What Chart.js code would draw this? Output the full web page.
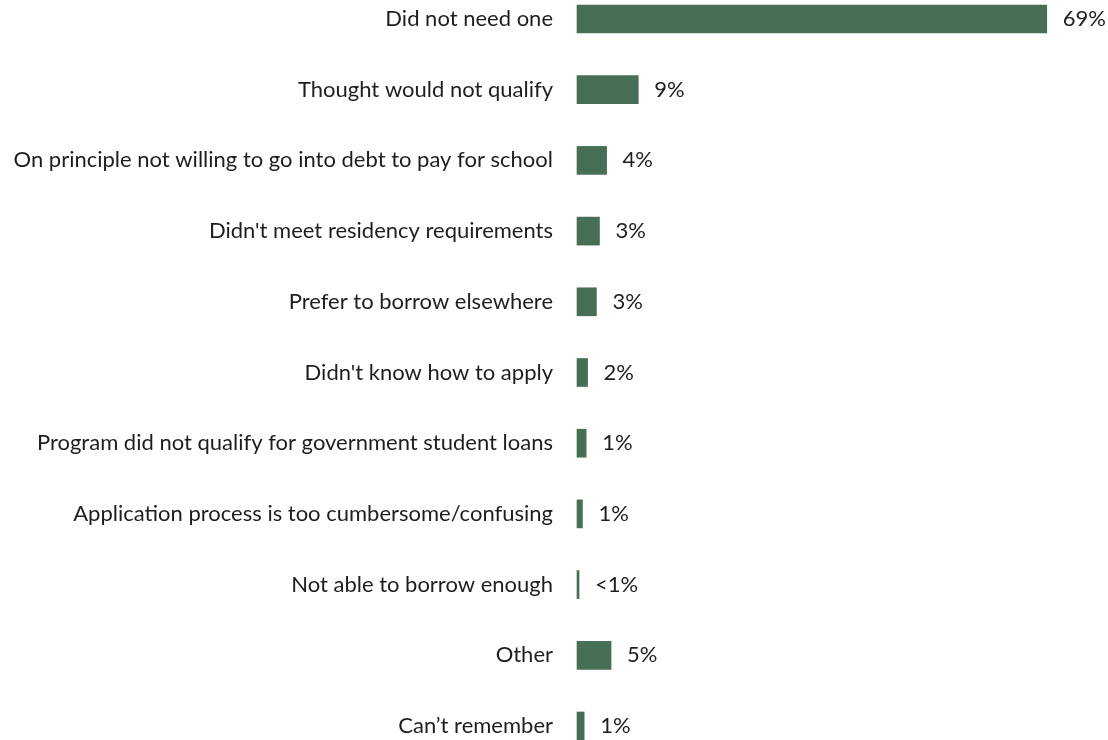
<!DOCTYPE html>
<html>
<head>
<meta charset="utf-8">
<script src="https://cdn.jsdelivr.net/npm/chart.js@4"></script>
<style>
  body { margin: 0; background: #fff; }
  #wrap { width: 1108px; height: 740px; position: relative; }
</style>
</head>
<body>
<div id="wrap"><canvas id="reasons"></canvas></div>
<script>
// reasons for not taking a government student loan
const reasons = [
    'Did not need one',
    'Thought would not qualify',
    'On principle not willing to go into debt to pay for school',
    "Didn't meet residency requirements",
    'Prefer to borrow elsewhere',
    "Didn't know how to apply",
    'Program did not qualify for government student loans',
    'Application process is too cumbersome/confusing',
    'Not able to borrow enough',
    'Other',
    'Can\u2019t remember'
];
// share of respondents, %
const shares = [69, 9.0, 4.35, 3.3, 2.85, 1.55, 1.35, 0.8, 0.3, 5.0, 1.05];

const barColor = 'rgb(70, 111, 85)';
const textColor = '#1e1e1e';
const fontFamily = "Lato, 'Noto Sans', sans-serif";
const fontSize = 22;

function pctLabel(v) {
    return v < 0.5 ? '<1%' : Math.round(v) + '%';
}

// value labels to the right of each bar
const valueLabels = {
    id: 'valueLabels',
    afterDatasetsDraw(chart) {
        const ctx = chart.ctx;
        const meta = chart.getDatasetMeta(0);
        ctx.save();
        ctx.font = fontSize + 'px ' + fontFamily;
        ctx.fillStyle = textColor;
        ctx.textAlign = 'left';
        ctx.textBaseline = 'middle';
        meta.data.forEach((bar, i) => {
            ctx.fillText(pctLabel(shares[i]), bar.x + 16, bar.y);
        });
        ctx.restore();
    }
};

const ctx = document.getElementById('reasons');
new Chart(ctx, {
    type: 'bar',
    data: {
        labels: reasons,
        datasets: [{
            data: shares,
            backgroundColor: barColor,
            borderWidth: 0,
            barThickness: 28,
            clip: false
        }]
    },
    options: {
        indexAxis: 'y',
        responsive: true,
        maintainAspectRatio: false,
        animation: false,
        layout: { padding: { top: 19, bottom: 14, left: 0, right: 0 } },
        plugins: {
            legend: { display: false },
            tooltip: { enabled: false }
        },
        scales: {
            x: {
                display: false,
                min: 0,
                max: 78
            },
            y: {
                offset: false,
                grid: { display: false, drawTicks: false },
                border: { display: false },
                ticks: {
                    padding: 24,
                    color: textColor,
                    font: { family: fontFamily, size: fontSize }
                },
                afterFit(scale) {
                    // fixed label column, and no extra room for the first/last label
                    scale.width = 577;
                    scale.paddingTop = 0;
                    scale.paddingBottom = 0;
                }
            }
        }
    },
    plugins: [valueLabels]
});
</script>
</body>
</html>
